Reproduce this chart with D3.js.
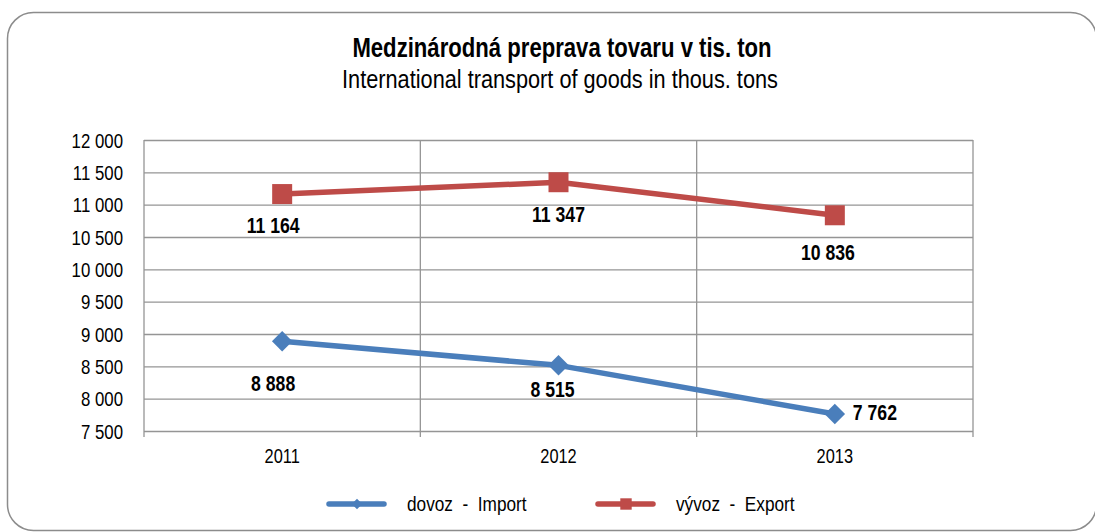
<!DOCTYPE html>
<html><head><meta charset="utf-8">
<script src="https://cdn.jsdelivr.net/npm/d3@7"></script>
<style>
body{margin:0;background:#fff;}
svg{display:block;font-family:"Liberation Sans",Arial,sans-serif;}
</style></head><body>
<svg id="c" width="1095" height="532"></svg>
<script>
const years = ["2011","2012","2013"];
const importVals = [8888, 8515, 7762];
const exportVals = [11164, 11347, 10836];
const yTicks = [7500,8000,8500,9000,9500,10000,10500,11000,11500,12000];
const seriesNames = ["dovoz  -  Import","vývoz  -  Export"];
const titleText = "Medzinárodná preprava tovaru v tis. ton";
const subtitleText = "International transport of goods in thous. tons";

// layout: data label offsets relative to their point [dx, baseline dy]
const importLabelOff = [[-9,50],[-6,32],[18,6]];
const exportLabelOff = [[-9,39],[0,40],[-7,45]];

const NX = 0.82; // horizontal condensing to emulate a narrow font
const svg = d3.select("#c");
const m={l:144,r:973,t:140,b:431};
const fmt = v => d3.format(",")(v).replace(/,/g," ");

function ntext(g, x, y, txt, size, opts={}){
  return g.append("text")
    .attr("transform",`translate(${x},${y}) scale(${NX},1)`)
    .attr("text-anchor",opts.anchor||"start")
    .attr("font-size",size).attr("font-weight",opts.bold?"bold":"normal")
    .attr("fill","#000").style("white-space","pre").text(txt);
}

svg.append("rect").attr("x",7.5).attr("y",12.5).attr("width",1089).attr("height",518)
  .attr("rx",26).attr("fill","#fff").attr("stroke","#8c8c8c").attr("stroke-width",1.5);

ntext(svg,562,57,titleText,27,{anchor:"middle",bold:true});
ntext(svg,560,88,subtitleText,26.5,{anchor:"middle"});

const x = d3.scaleBand().domain(years).range([m.l,m.r]).padding(0);
const y = d3.scaleLinear().domain([7500,12000]).range([m.b,m.t]);

// horizontal gridlines + y labels
const gy = svg.append("g").attr("transform",`translate(${m.l},0)`)
  .call(d3.axisLeft(y).tickValues(yTicks).tickSize(-(m.r-m.l)).tickFormat(fmt));
gy.select(".domain").remove();
gy.selectAll(".tick line").attr("stroke","#959595").attr("stroke-width",1.3);
gy.selectAll(".tick text").attr("x",0).attr("dy","0.35em")
  .attr("transform",`translate(-21,0) scale(${NX},1)`)
  .attr("font-size",20.5).attr("fill","#000").attr("font-family","inherit");

// vertical gridlines / category separators
const seps = [m.l, ...years.map(d=>x(d)+x.bandwidth())];
svg.append("g").selectAll("line").data(seps).join("line")
  .attr("x1",d=>d).attr("x2",d=>d).attr("y1",m.t).attr("y2",m.b+6)
  .attr("stroke","#959595").attr("stroke-width",1.3);

const gx = svg.append("g").attr("transform",`translate(0,${m.b})`)
  .call(d3.axisBottom(x).tickSize(0).tickPadding(18));
gx.select(".domain").remove();
gx.selectAll(".tick text").attr("transform",`scale(${NX},1)`)
  .attr("font-size",20).attr("fill","#000").attr("font-family","inherit");

const cx = d => x(d)+x.bandwidth()/2;
const blue="#4a7ebb", red="#be4b48";
const diamond = {draw(ctx,size){const r=Math.sqrt(size)/2;ctx.moveTo(0,-r);ctx.lineTo(r,0);ctx.lineTo(0,r);ctx.lineTo(-r,0);ctx.closePath();}};

function drawSeries(vals,color,shape,size,offs){
  const pts = years.map((d,i)=>[cx(d),y(vals[i])]);
  svg.append("path").attr("d",d3.line()(pts)).attr("fill","none")
    .attr("stroke",color).attr("stroke-width",5.5).attr("stroke-linejoin","round");
  svg.append("g").selectAll("path").data(pts).join("path")
    .attr("transform",p=>`translate(${p[0]},${p[1]})`)
    .attr("d",d3.symbol().type(shape).size(size)).attr("fill",color);
  const lg = svg.append("g");
  vals.forEach((v,i)=>{
    ntext(lg, pts[i][0]+offs[i][0], pts[i][1]+offs[i][1], fmt(v), 21.5,
      {bold:true, anchor: offs[i][0]>10?"start":"middle"});
  });
}
drawSeries(importVals,blue,diamond,420,importLabelOff);
drawSeries(exportVals,red,d3.symbolSquare,400,exportLabelOff);

// legend
const leg=[{c:blue,s:diamond,sz:110,x:329,n:seriesNames[0]},{c:red,s:d3.symbolSquare,sz:130,x:598,n:seriesNames[1]}];
const lg=svg.append("g");
leg.forEach(l=>{
  lg.append("line").attr("x1",l.x).attr("x2",l.x+55).attr("y1",504).attr("y2",504)
    .attr("stroke",l.c).attr("stroke-width",5.5).attr("stroke-linecap","round");
  lg.append("path").attr("transform",`translate(${l.x+28},504)`).attr("d",d3.symbol().type(l.s).size(l.sz)).attr("fill",l.c);
  ntext(lg, l.x+78, 511, l.n, 21);
});
</script></body></html>
